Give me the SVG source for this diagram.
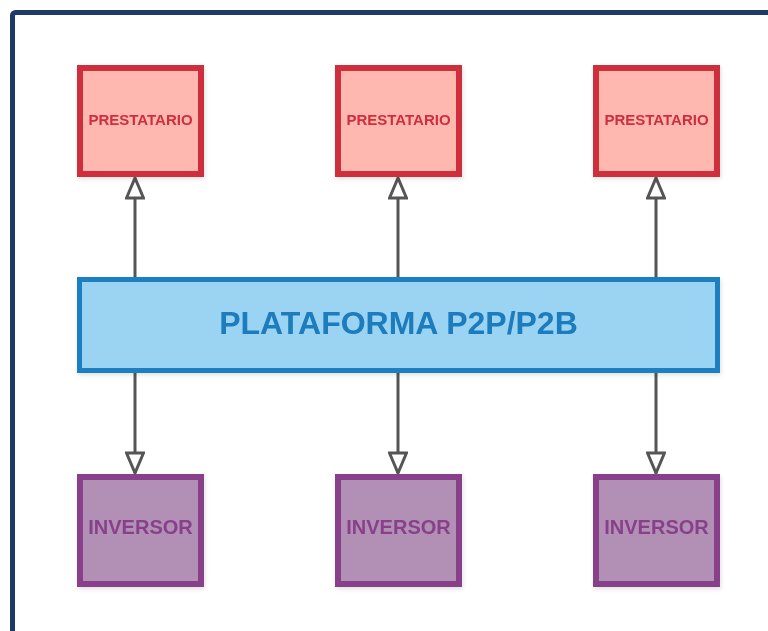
<svg xmlns="http://www.w3.org/2000/svg" width="768" height="631" viewBox="0 0 768 631">
  <style>
    .lbl { font-family: "Liberation Sans", Arial, sans-serif; font-weight: bold; text-anchor: middle; dominant-baseline: central; }
    .borrower rect { fill: #ffb8b0; stroke: #cf2e3e; stroke-width: 6; }
    .borrower text { fill: #cf2e3e; font-size: 15px; }
    .investor rect { fill: #b28fb5; stroke: #874189; stroke-width: 6; }
    .investor text { fill: #874189; font-size: 20px; }
    .platform rect { fill: #9bd3f3; stroke: #1a7fc2; stroke-width: 5; }
    .platform text { fill: #1a7bbd; font-size: 32px; }
    .edge { stroke: #555; stroke-width: 3; fill: none; }
    .node { filter: url(#shadow); }
  </style>
  <defs>
    <filter id="shadow" x="-10%" y="-10%" width="130%" height="130%">
      <feDropShadow dx="1" dy="2" stdDeviation="2" flood-color="#000" flood-opacity="0.12"/>
    </filter>
    <marker id="hollow" viewBox="0 0 24 20" refX="22" refY="10" markerWidth="24" markerHeight="20" markerUnits="userSpaceOnUse" orient="auto">
      <path d="M2,1.5 L22,10 L2,18.5 Z" fill="#fff" stroke="#555" stroke-width="3" stroke-linejoin="miter"/>
    </marker>
  </defs>

  <rect width="768" height="631" fill="#fff"/>
  <!-- outer frame -->
  <rect x="12.5" y="12.5" width="790" height="660" rx="3" fill="none" stroke="#1f3a68" stroke-width="5"/>

  <!-- connectors -->
  <g id="connectors">
    <line class="edge" x1="135" y1="277" x2="135" y2="178" marker-end="url(#hollow)"/>
    <line class="edge" x1="398" y1="277" x2="398" y2="178" marker-end="url(#hollow)"/>
    <line class="edge" x1="656" y1="277" x2="656" y2="178" marker-end="url(#hollow)"/>
    <line class="edge" x1="135" y1="373" x2="135" y2="473" marker-end="url(#hollow)"/>
    <line class="edge" x1="398" y1="373" x2="398" y2="473" marker-end="url(#hollow)"/>
    <line class="edge" x1="656" y1="373" x2="656" y2="473" marker-end="url(#hollow)"/>
  </g>

  <!-- borrowers -->
  <g id="prestatario-1" class="node borrower">
    <rect x="80" y="68" width="121" height="106"/>
    <text class="lbl" x="140.5" y="119">PRESTATARIO</text>
  </g>
  <g id="prestatario-2" class="node borrower">
    <rect x="338" y="68" width="121" height="106"/>
    <text class="lbl" x="398.5" y="119">PRESTATARIO</text>
  </g>
  <g id="prestatario-3" class="node borrower">
    <rect x="596" y="68" width="121" height="106"/>
    <text class="lbl" x="656.5" y="119">PRESTATARIO</text>
  </g>

  <!-- platform -->
  <g id="plataforma" class="node platform">
    <rect x="79.5" y="279.5" width="638" height="91"/>
    <text class="lbl" x="398.5" y="323">PLATAFORMA P2P/P2B</text>
  </g>

  <!-- investors -->
  <g id="inversor-1" class="node investor">
    <rect x="80" y="477" width="121" height="107"/>
    <text class="lbl" x="140.5" y="527">INVERSOR</text>
  </g>
  <g id="inversor-2" class="node investor">
    <rect x="338" y="477" width="121" height="107"/>
    <text class="lbl" x="398.5" y="527">INVERSOR</text>
  </g>
  <g id="inversor-3" class="node investor">
    <rect x="596" y="477" width="121" height="107"/>
    <text class="lbl" x="656.5" y="527">INVERSOR</text>
  </g>
</svg>
